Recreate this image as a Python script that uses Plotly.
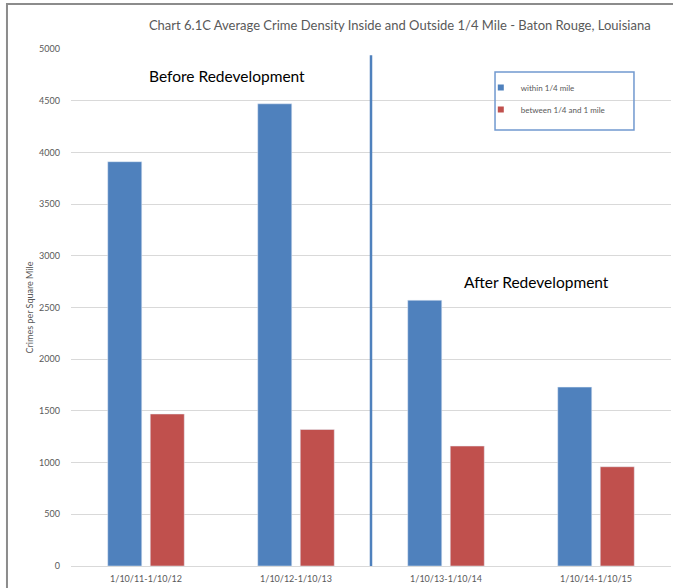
import plotly.graph_objects as go

categories = ["1/10/11-1/10/12", "1/10/12-1/10/13", "1/10/13-1/10/14", "1/10/14-1/10/15"]
within_quarter = [3910, 4470, 2570, 1730]
between_quarter_and_one = [1470, 1320, 1160, 960]
series_names = ["within 1/4 mile", "between 1/4 and 1 mile"]
y_ticks = [0, 500, 1000, 1500, 2000, 2500, 3000, 3500, 4000, 4500, 5000]

BLUE = "#4F81BD"
RED = "#C0504D"
FONT = "Lato"
GRAY = "#595959"

fig = go.Figure()
fig.add_trace(go.Bar(x=categories, y=within_quarter, name=series_names[0],
                     marker=dict(color=BLUE), showlegend=False))
fig.add_trace(go.Bar(x=categories, y=between_quarter_and_one, name=series_names[1],
                     marker=dict(color=RED), showlegend=False))
# legend entries with small square swatches
fig.add_trace(go.Scatter(x=[None], y=[None], mode="markers", name=series_names[0],
                         legendgroup="a",
                         marker=dict(symbol="square", size=6, color=BLUE)))
fig.add_trace(go.Scatter(x=[None], y=[None], mode="markers", name=series_names[1],
                         legendgroup="b",
                         marker=dict(symbol="square", size=6, color=RED)))

fig.update_layout(
    width=673, height=588,
    margin=dict(l=71, r=2, t=49, b=22),
    paper_bgcolor="white", plot_bgcolor="white",
    barmode="group", bargap=0.433, bargroupgap=0.2,
    font=dict(family=FONT, color=GRAY, size=9),
    title=dict(text="Chart 6.1C Average Crime Density Inside and Outside 1/4 Mile - Baton Rouge, Louisiana",
               x=0.594, xanchor="center", xref="container",
               y=1 - 25 / 588, yanchor="middle", yref="container",
               font=dict(family=FONT, size=13, color=GRAY)),
    legend=dict(x=0.683, y=0.9536, xanchor="left", yanchor="top",
                borderwidth=0, bgcolor="rgba(0,0,0,0)",
                font=dict(family=FONT, size=8, color=GRAY),
                itemwidth=30, tracegroupgap=3),
    xaxis=dict(showgrid=False, showline=False, ticks="", zeroline=False,
               ticklabelstandoff=6,
               tickfont=dict(family=FONT, size=9, color=GRAY)),
    yaxis=dict(range=[0, 5000], tickvals=y_ticks, showgrid=True, gridcolor="#D9D9D9",
               gridwidth=1, zeroline=True, zerolinecolor="#D9D9D9", zerolinewidth=1,
               showline=False, ticks="", ticklabelstandoff=10,
               tickfont=dict(family=FONT, size=9, color=GRAY),
               title=dict(text="Crimes per Square Mile", standoff=3,
                          font=dict(family=FONT, size=9, color=GRAY))),
    annotations=[
        dict(text="Before Redevelopment", xref="paper", yref="paper", x=0.26, y=0.948,
             xanchor="center", yanchor="middle", showarrow=False,
             font=dict(family=FONT, size=15.5, color="black")),
        dict(text="After Redevelopment", xref="paper", yref="paper", x=0.775, y=0.549,
             xanchor="center", yanchor="middle", showarrow=False,
             font=dict(family=FONT, size=15.5, color="black")),
    ],
    shapes=[
        dict(type="line", xref="x", yref="y", x0=1.5, x1=1.5, y0=0, y1=4940,
             line=dict(color=BLUE, width=2.5)),
        dict(type="rect", xref="paper", yref="paper", x0=0.7067, x1=0.9383, y0=0.8433, y1=0.9555,
             line=dict(color="#7199CF", width=1.5), layer="above"),
        dict(type="rect", xref="paper", yref="paper", x0=-0.1067, x1=1.2, y0=-0.2, y1=1.087,
             line=dict(color="#8C8C8C", width=2), layer="above"),
    ],
)

fig.write_html("out.html",
               config={"displayModeBar": False},
               post_script="document.body.style.margin='0px';document.body.style.overflow='hidden';")
